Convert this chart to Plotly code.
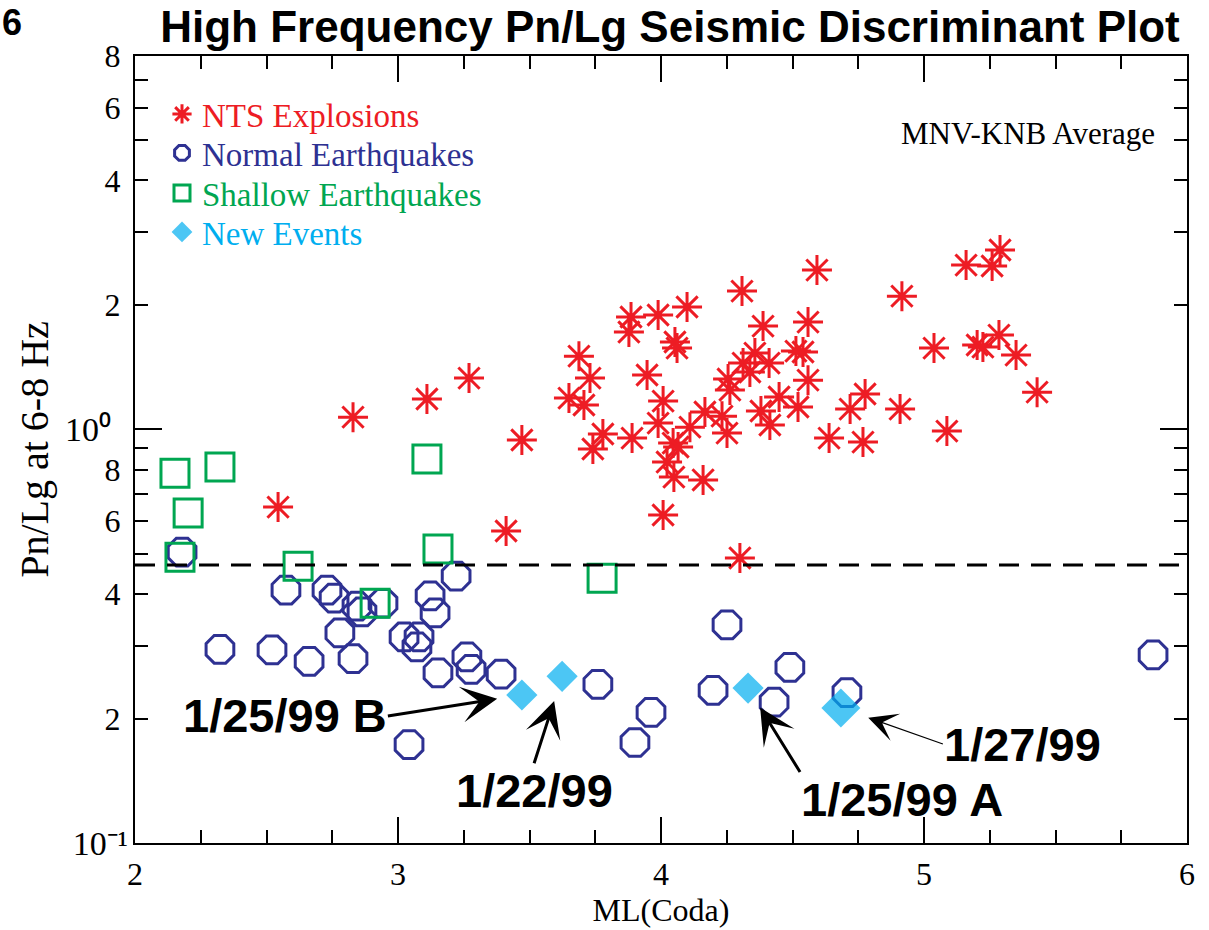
import math
import plotly.graph_objects as go

# ---------------- data ----------------
nts_x = [2.544, 2.829, 3.110, 3.270, 3.411, 3.471, 3.650, 3.688, 3.707, 3.730,
         3.741, 3.779, 3.886, 3.878, 3.890, 3.947, 3.989, 4.008, 3.989, 4.008,
         4.023, 4.046, 4.065, 4.049, 4.053, 4.061, 4.099, 4.110, 4.160, 4.167,
         4.232, 4.251, 4.255, 4.262, 4.308, 4.300, 4.312, 4.338, 4.357, 4.411,
         4.380, 4.414, 4.449, 4.521, 4.513, 4.540, 4.559, 4.559, 4.388, 4.593,
         4.639, 4.719, 4.776, 4.768, 4.916, 4.909, 5.038, 5.087, 5.160, 5.202,
         5.224, 5.259, 5.289, 5.285, 5.350, 5.430]
nts_y = [0.649, 1.071, 1.185, 1.331, 0.568, 0.943, 1.191, 1.504, 1.146, 1.331,
         0.897, 0.975, 1.870, 1.720, 0.953, 1.354, 1.891, 1.171, 1.036, 0.621,
         0.834, 0.927, 0.907, 0.767, 1.627, 1.573, 1.977, 1.013, 0.755, 1.102,
         1.077, 0.980, 1.324, 1.245, 2.161, 0.489, 1.447, 1.377, 1.530, 1.447,
         1.108, 1.025, 1.198, 1.133, 1.547, 1.539, 1.316, 1.818, 1.778, 2.429,
         0.953, 1.120, 1.218, 0.932, 2.101, 1.120, 1.573, 0.991, 2.497, 1.600,
         1.582, 2.484, 2.716, 1.691, 1.513, 1.231]

normal_x = [2.179, 2.574, 2.730, 2.757, 2.844, 2.863, 2.943, 2.779, 2.323, 2.521,
            2.662, 2.829, 3.122, 3.141, 3.023, 3.080, 3.072, 3.152, 3.221, 3.262,
            3.278, 3.392, 3.042, 3.760, 3.962, 3.901, 4.251, 4.198, 4.490, 4.430,
            4.707, 5.871]
normal_y = [0.505, 0.409, 0.409, 0.391, 0.374, 0.362, 0.380, 0.322, 0.294, 0.293,
            0.275, 0.279, 0.396, 0.360, 0.315, 0.315, 0.298, 0.258, 0.442, 0.282,
            0.263, 0.256, 0.173, 0.242, 0.207, 0.175, 0.337, 0.234, 0.266, 0.219,
            0.231, 0.285]

shallow_x = [2.152, 2.323, 2.202, 2.171, 2.620, 3.110, 3.152, 2.913, 3.776]
shallow_y = [0.784, 0.811, 0.628, 0.491, 0.467, 0.848, 0.514, 0.380, 0.437]

new_labels = ["1/25/99 B", "1/22/99", "1/25/99 A", "1/27/99"]
new_x = [3.471, 3.624, 4.331, 4.684]
new_y = [0.228, 0.253, 0.237, 0.212]
new_size = [24, 24, 24, 30]

threshold = 0.47
threshold_x = [2, 6]

y_tick_vals = [0.2, 0.4, 0.6, 0.8, 2, 4, 6, 8]
y_tick_text = ["2", "4", "6", "8", "2", "4", "6", "8"]
y_minor_vals = [0.3, 0.5, 0.7, 0.9, 3, 5, 7]
y_decade_vals = [0.1, 1]
y_decade_text = ["10\u207b\u00b9", "10\u2070\u00a0\u00a0"]
x_tick_vals = [2, 3, 4, 5, 6]
x_tick_text = ["2", "3", "4", "5", "6"]

RED = "#ED1C24"
BLUE = "#2E3192"
GREEN = "#00A651"
CYAN = "#00AEEF"

fig = go.Figure()

fig.add_trace(go.Scatter(
    x=normal_x, y=normal_y, mode="markers", name="Normal Earthquakes",
    legend="legend2",
    marker=dict(symbol="octagon-open", size=30, color=BLUE,
                line=dict(width=3, color=BLUE))))

fig.add_trace(go.Scatter(
    x=shallow_x, y=shallow_y, mode="markers", name="Shallow Earthquakes",
    legend="legend3",
    marker=dict(symbol="square-open", size=28, color=GREEN,
                line=dict(width=3, color=GREEN))))

fig.add_trace(go.Scatter(
    x=nts_x, y=nts_y, mode="markers", name="NTS Explosions",
    legend="legend",
    marker=dict(symbol="asterisk-open", size=25, color=RED,
                line=dict(width=3, color=RED))))

fig.add_trace(go.Scatter(
    x=new_x, y=new_y, mode="markers", name="New Events",
    legend="legend4",
    marker=dict(symbol="diamond", size=new_size, color=CYAN,
                line=dict(width=0))))

fig.add_trace(go.Scatter(
    x=threshold_x, y=[threshold, threshold], mode="lines",
    yaxis="y2", showlegend=False, hoverinfo="skip",
    line=dict(color="black", width=3, dash="20px,12px")))

# labelled arrows pointing at the new events (tail offsets in px)
arrow_ax = [-134, -28, 52, 102]
arrow_ay = [21, 87, 84, 36]
arrow_standoff = [25, 26, 23, 29]
arrow_width = [3, 3, 3, 1.2]
arrow_size = [2, 2, 2, 4]
label_xanchor = ["right", "center", "left", "left"]
label_yanchor = ["middle", "top", "top", "middle"]

annotations = []
for i in range(len(new_x)):
    annotations.append(dict(
        x=new_x[i], y=math.log10(new_y[i]), xref="x", yref="y",
        text="<b>%s</b>" % new_labels[i], showarrow=True, arrowhead=3,
        arrowcolor="black", arrowwidth=arrow_width[i], arrowsize=arrow_size[i],
        standoff=arrow_standoff[i], ax=arrow_ax[i], ay=arrow_ay[i],
        xanchor=label_xanchor[i], yanchor=label_yanchor[i], borderpad=0,
        font=dict(family="Liberation Sans", size=47, color="black")))

annotations.append(dict(
    x=(1157 - 135) / 1052, y=(843 - 133) / 787, xref="paper", yref="paper",
    text="MNV-KNB Average", showarrow=False, xanchor="right", yanchor="middle",
    font=dict(family="Liberation Serif", size=31, color="black")))

annotations.append(dict(
    x=(0 - 135) / 1052, y=(843 - 22) / 787, xref="paper", yref="paper",
    text="<b>6</b>", showarrow=False, xanchor="left", yanchor="middle",
    font=dict(family="Liberation Sans", size=36, color="black")))

legend_common = dict(x=(162 - 135) / 1052, xanchor="left", yanchor="middle",
                     bgcolor="rgba(0,0,0,0)", borderwidth=0)
legend_rows = [114, 153, 193, 232]
legend_colors = [RED, BLUE, GREEN, CYAN]
legends = {}
for k, (row, col) in enumerate(zip(legend_rows, legend_colors)):
    key = "legend" if k == 0 else "legend%d" % (k + 1)
    legends[key] = dict(legend_common, y=(843 - row) / 787,
                        font=dict(family="Liberation Serif", size=33, color=col))

fig.update_layout(
    width=1209, height=930,
    margin=dict(l=135, r=22, t=56, b=87),
    paper_bgcolor="white", plot_bgcolor="white",
    font=dict(family="Liberation Serif", size=32, color="black"),
    title=dict(text="<b>High Frequency Pn/Lg Seismic Discriminant Plot</b>",
               font=dict(family="Liberation Sans", size=44, color="black"),
               x=670 / 1209, xanchor="center", y=1 - 27 / 930, yanchor="middle"),
    showlegend=True,
    annotations=annotations,
    xaxis=dict(range=[2, 6], tickmode="array", tickvals=x_tick_vals, ticktext=x_tick_text,
               ticks="inside", ticklen=26, tickwidth=1.5, tickcolor="black",
               showline=True, linecolor="black", linewidth=2, mirror="ticks",
               showgrid=False, zeroline=False, ticklabelstandoff=2, automargin=False,
               tickfont=dict(size=32),
               minor=dict(dtick=0.25, ticks="inside", ticklen=13, tickwidth=1.5,
                          tickcolor="black", showgrid=False),
               title=dict(text="ML(Coda)", font=dict(size=32), standoff=4)),
    yaxis=dict(type="log", range=[-1, math.log10(8)], tickmode="array",
               tickvals=y_tick_vals, ticktext=y_tick_text,
               ticks="inside", ticklen=13, tickwidth=1.5, tickcolor="black",
               showline=True, linecolor="black", linewidth=2, mirror="ticks",
               showgrid=False, zeroline=False, ticklabelstandoff=6, automargin=False,
               tickfont=dict(size=32),
               minor=dict(tickmode="array", tickvals=y_minor_vals, ticks="inside",
                          ticklen=13, tickwidth=1.5, tickcolor="black", showgrid=False),
               title=dict(text="Pn/Lg at 6-8 Hz", font=dict(size=40), standoff=44)),
    yaxis2=dict(type="log", overlaying="y", matches="y", side="left",
                range=[-1, math.log10(8)], tickmode="array",
                tickvals=y_decade_vals, ticktext=y_decade_text,
                ticks="inside", ticklen=27, tickwidth=1.5, tickcolor="black",
                showline=False, mirror="ticks", showgrid=False, zeroline=False,
                ticklabelstandoff=6, automargin=False, tickfont=dict(size=34)),
    **legends,
)

fig.write_html("out.html")
